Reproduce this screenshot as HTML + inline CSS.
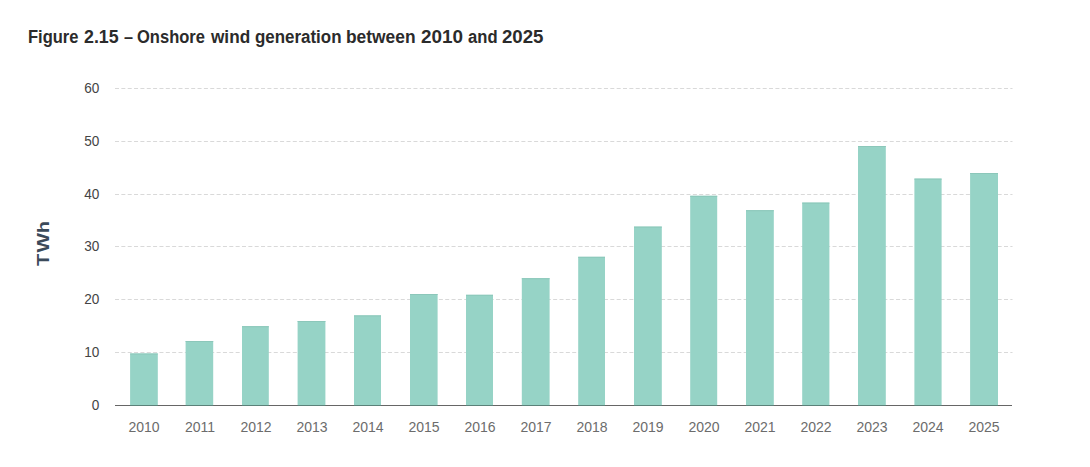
<!DOCTYPE html>
<html><head><meta charset="utf-8">
<style>
html,body{margin:0;padding:0;background:#fff;width:1090px;height:467px;overflow:hidden;}
body{position:relative;font-family:"Liberation Sans",sans-serif;}
.title span{position:absolute;top:22.2px;font-size:18px;font-weight:bold;color:#2b2b2b;white-space:nowrap;line-height:30px;transform-origin:0 0;}
svg{position:absolute;left:0;top:0;}
</style></head><body>
<div class="title"><span style="left:27.88px;transform:scaleX(0.9167)">Figure</span><span style="left:83.61px;transform:scaleX(0.9882)">2.15</span><span style="left:123.60px;transform:scaleX(0.9000)">–</span><span style="left:137.38px;transform:scaleX(0.9178)">Onshore</span><span style="left:211.10px;transform:scaleX(0.9550)">wind</span><span style="left:255.16px;transform:scaleX(0.9400)">generation</span><span style="left:346.43px;transform:scaleX(0.9657)">between</span><span style="left:421.05px;transform:scaleX(1.0500)">2010</span><span style="left:468.10px;transform:scaleX(0.9226)">and</span><span style="left:502.06px;transform:scaleX(1.0359)">2025</span></div>
<svg width="1090" height="467" viewBox="0 0 1090 467">
<g stroke="#d9d9d9" stroke-width="1.2" stroke-dasharray="4 2.35">
<line x1="115" y1="352.5" x2="1012.5" y2="352.5" />
<line x1="115" y1="299.5" x2="1012.5" y2="299.5" />
<line x1="115" y1="246.5" x2="1012.5" y2="246.5" />
<line x1="115" y1="194.5" x2="1012.5" y2="194.5" />
<line x1="115" y1="141.5" x2="1012.5" y2="141.5" />
<line x1="115" y1="88.5" x2="1012.5" y2="88.5" />
</g>
<line x1="115" y1="405.5" x2="1012" y2="405.5" stroke="#666" stroke-width="1"/>
<g>
<rect x="130.1" y="353.50" width="27.70" height="51.50" fill="#96d3c6"/>
<rect x="130.1" y="353.50" width="27.70" height="1" fill="#8cc7ba"/>
<rect x="130.1" y="405" width="27.70" height="1" fill="#5b8179"/>
<rect x="185.6" y="341.00" width="27.60" height="64.00" fill="#96d3c6"/>
<rect x="185.6" y="341.00" width="27.60" height="1" fill="#8cc7ba"/>
<rect x="185.6" y="405" width="27.60" height="1" fill="#5b8179"/>
<rect x="242" y="326.20" width="26.80" height="78.80" fill="#96d3c6"/>
<rect x="242" y="326.20" width="26.80" height="1" fill="#8cc7ba"/>
<rect x="242" y="405" width="26.80" height="1" fill="#5b8179"/>
<rect x="297.6" y="321.00" width="27.80" height="84.00" fill="#96d3c6"/>
<rect x="297.6" y="321.00" width="27.80" height="1" fill="#8cc7ba"/>
<rect x="297.6" y="405" width="27.80" height="1" fill="#5b8179"/>
<rect x="354" y="315.40" width="27.00" height="89.60" fill="#96d3c6"/>
<rect x="354" y="315.40" width="27.00" height="1" fill="#8cc7ba"/>
<rect x="354" y="405" width="27.00" height="1" fill="#5b8179"/>
<rect x="410" y="294.00" width="27.60" height="111.00" fill="#96d3c6"/>
<rect x="410" y="294.00" width="27.60" height="1" fill="#8cc7ba"/>
<rect x="410" y="405" width="27.60" height="1" fill="#5b8179"/>
<rect x="466" y="294.80" width="27.00" height="110.20" fill="#96d3c6"/>
<rect x="466" y="294.80" width="27.00" height="1" fill="#8cc7ba"/>
<rect x="466" y="405" width="27.00" height="1" fill="#5b8179"/>
<rect x="521.8" y="278.20" width="27.80" height="126.80" fill="#96d3c6"/>
<rect x="521.8" y="278.20" width="27.80" height="1" fill="#8cc7ba"/>
<rect x="521.8" y="405" width="27.80" height="1" fill="#5b8179"/>
<rect x="578.2" y="256.80" width="26.80" height="148.20" fill="#96d3c6"/>
<rect x="578.2" y="256.80" width="26.80" height="1" fill="#8cc7ba"/>
<rect x="578.2" y="405" width="26.80" height="1" fill="#5b8179"/>
<rect x="634" y="226.60" width="27.80" height="178.40" fill="#96d3c6"/>
<rect x="634" y="226.60" width="27.80" height="1" fill="#8cc7ba"/>
<rect x="634" y="405" width="27.80" height="1" fill="#5b8179"/>
<rect x="690.2" y="195.80" width="27.00" height="209.20" fill="#96d3c6"/>
<rect x="690.2" y="195.80" width="27.00" height="1" fill="#8cc7ba"/>
<rect x="690.2" y="405" width="27.00" height="1" fill="#5b8179"/>
<rect x="746" y="210.20" width="27.80" height="194.80" fill="#96d3c6"/>
<rect x="746" y="210.20" width="27.80" height="1" fill="#8cc7ba"/>
<rect x="746" y="405" width="27.80" height="1" fill="#5b8179"/>
<rect x="802.2" y="202.60" width="27.20" height="202.40" fill="#96d3c6"/>
<rect x="802.2" y="202.60" width="27.20" height="1" fill="#8cc7ba"/>
<rect x="802.2" y="405" width="27.20" height="1" fill="#5b8179"/>
<rect x="858" y="146.00" width="27.80" height="259.00" fill="#96d3c6"/>
<rect x="858" y="146.00" width="27.80" height="1" fill="#8cc7ba"/>
<rect x="858" y="405" width="27.80" height="1" fill="#5b8179"/>
<rect x="914.4" y="178.60" width="27.20" height="226.40" fill="#96d3c6"/>
<rect x="914.4" y="178.60" width="27.20" height="1" fill="#8cc7ba"/>
<rect x="914.4" y="405" width="27.20" height="1" fill="#5b8179"/>
<rect x="970.1" y="173.00" width="27.90" height="232.00" fill="#96d3c6"/>
<rect x="970.1" y="173.00" width="27.90" height="1" fill="#8cc7ba"/>
<rect x="970.1" y="405" width="27.90" height="1" fill="#5b8179"/>
</g>
<g font-family="Liberation Sans, sans-serif" font-size="14.8" fill="#444">
<text transform="translate(99.4,409.90) scale(0.92,1)" text-anchor="end">0</text>
<text transform="translate(99.4,356.90) scale(0.92,1)" text-anchor="end">10</text>
<text transform="translate(99.4,303.90) scale(0.92,1)" text-anchor="end">20</text>
<text transform="translate(99.4,250.90) scale(0.92,1)" text-anchor="end">30</text>
<text transform="translate(99.4,198.90) scale(0.92,1)" text-anchor="end">40</text>
<text transform="translate(99.4,145.90) scale(0.92,1)" text-anchor="end">50</text>
<text transform="translate(99.4,92.90) scale(0.92,1)" text-anchor="end">60</text>
</g>
<g font-family="Liberation Sans, sans-serif" font-size="14" fill="#6c6c6c">
<text x="144" y="432.4" text-anchor="middle">2010</text>
<text x="200" y="432.4" text-anchor="middle">2011</text>
<text x="256" y="432.4" text-anchor="middle">2012</text>
<text x="312" y="432.4" text-anchor="middle">2013</text>
<text x="368" y="432.4" text-anchor="middle">2014</text>
<text x="424" y="432.4" text-anchor="middle">2015</text>
<text x="480" y="432.4" text-anchor="middle">2016</text>
<text x="536" y="432.4" text-anchor="middle">2017</text>
<text x="592" y="432.4" text-anchor="middle">2018</text>
<text x="648" y="432.4" text-anchor="middle">2019</text>
<text x="704" y="432.4" text-anchor="middle">2020</text>
<text x="760" y="432.4" text-anchor="middle">2021</text>
<text x="816" y="432.4" text-anchor="middle">2022</text>
<text x="872" y="432.4" text-anchor="middle">2023</text>
<text x="928" y="432.4" text-anchor="middle">2024</text>
<text x="984" y="432.4" text-anchor="middle">2025</text>
</g>
<g transform="translate(48.9,0) rotate(-90)" font-family="Liberation Sans, sans-serif" font-size="17" font-weight="bold" fill="#3b4a5a">
<text transform="translate(-265.92,0) scale(1.169,1)">T</text>
<text transform="translate(-252.52,0) scale(1.212,1)">W</text>
<text transform="translate(-232.96,0) scale(1.142,1)">h</text>
</g>
</svg>
</body></html>
